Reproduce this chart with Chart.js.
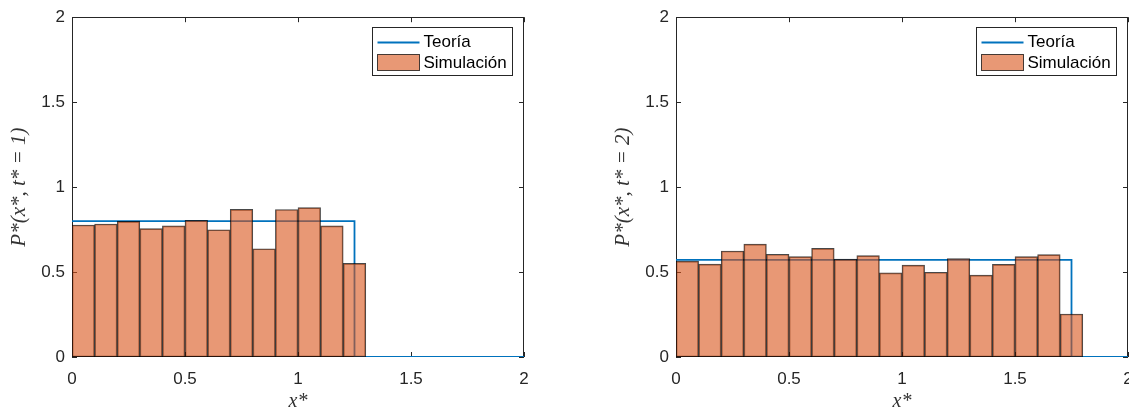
<!DOCTYPE html>
<html>
<head>
<meta charset="utf-8">
<script src="https://cdn.jsdelivr.net/npm/chart.js"></script>
<style>
  html, body { margin: 0; padding: 0; background: #fff; overflow: hidden; }
  #wrap { position: relative; width: 1129px; height: 414px; overflow: hidden; background: #fff; }
  .panel { position: absolute; top: 0; width: 560px; height: 414px; }
</style>
</head>
<body>
<div id="wrap">
  <div class="panel" style="left:0px"><canvas id="chart1" width="560" height="414"></canvas></div>
  <div class="panel" style="left:604px"><canvas id="chart2" width="560" height="414"></canvas></div>
</div>
<script>
// Data
const legendLabels = ['Teoría', 'Simulación'];
const axisTicks = [0, 0.5, 1, 1.5, 2];

// t* = 1
const binCenters1 = [0.05, 0.15, 0.25, 0.35, 0.45, 0.55, 0.65, 0.75, 0.85, 0.95, 1.05, 1.15, 1.25];
const simulation1 = [0.777, 0.783, 0.798, 0.756, 0.772, 0.804, 0.749, 0.869, 0.637, 0.868, 0.879, 0.772, 0.551];
const theoryX1 = [0, 1.25, 1.25, 2];
const theoryY1 = [0.8, 0.8, 0, 0];

// t* = 2
const binCenters2 = [0.05, 0.15, 0.25, 0.35, 0.45, 0.55, 0.65, 0.75, 0.85, 0.95, 1.05, 1.15, 1.25, 1.35, 1.45, 1.55, 1.65, 1.75];
const simulation2 = [0.564, 0.547, 0.624, 0.664, 0.605, 0.591, 0.639, 0.576, 0.597, 0.495, 0.541, 0.499, 0.580, 0.482, 0.545, 0.591, 0.603, 0.253];
const theoryX2 = [0, 1.75, 1.75, 2];
const theoryY2 = [0.5714, 0.5714, 0, 0];

const yTitles = ['P*(x*, t* = 1)', 'P*(x*, t* = 2)'];
const xTitle = 'x*';

const axisColor = '#262626';
const lineColor = '#0072BD';
const barFill = 'rgba(217, 83, 25, 0.6)';
const barEdge = 'rgba(0, 0, 0, 0.72)';

// box around the axes with inward ticks on all four sides, drawn under the data
const boxTicks = {
  id: 'boxTicks',
  beforeDatasetsDraw(chart) {
    const { ctx, chartArea: a, scales: { x, y } } = chart;
    const len = 5;
    ctx.save();
    ctx.strokeStyle = axisColor;
    ctx.lineWidth = 1;
    ctx.beginPath();
    x.ticks.forEach(t => {
      const px = Math.round(x.getPixelForValue(t.value)) + 0.5;
      ctx.moveTo(px, a.bottom); ctx.lineTo(px, a.bottom - len);
      ctx.moveTo(px, a.top); ctx.lineTo(px, a.top + len);
    });
    y.ticks.forEach(t => {
      const py = Math.round(y.getPixelForValue(t.value)) + 0.5;
      ctx.moveTo(a.left, py); ctx.lineTo(a.left + len, py);
      ctx.moveTo(a.right, py); ctx.lineTo(a.right - len, py);
    });
    ctx.stroke();
    ctx.strokeRect(Math.round(a.left) + 0.5, Math.round(a.top) + 0.5,
      Math.round(a.right - a.left) - 1, Math.round(a.bottom - a.top) - 1);
    ctx.restore();
  }
};

// legend drawn in a box in the upper right corner of the axes
const boxLegend = {
  id: 'boxLegend',
  afterDraw(chart) {
    const { ctx, chartArea: a } = chart;
    const w = 140, h = 48;
    const left = Math.round(a.right - 12 - w) + 0.5;
    const top = Math.round(a.top + 10) + 0.5;
    ctx.save();
    ctx.fillStyle = '#fff';
    ctx.fillRect(left, top, w, h);
    ctx.strokeStyle = axisColor;
    ctx.lineWidth = 1;
    ctx.strokeRect(left, top, w, h);

    const lineDs = chart.data.datasets.find(d => d.type === 'line');
    const barDs = chart.data.datasets.find(d => d.type === 'bar');

    // Teoría
    ctx.strokeStyle = lineDs.borderColor;
    ctx.lineWidth = 2;
    ctx.beginPath();
    ctx.moveTo(left + 5, top + 15);
    ctx.lineTo(left + 47, top + 15);
    ctx.stroke();

    // Simulación
    ctx.fillStyle = barDs.backgroundColor;
    ctx.fillRect(left + 5, top + 27, 42, 16);
    ctx.strokeStyle = barDs.borderColor;
    ctx.lineWidth = 1;
    ctx.strokeRect(left + 5, top + 27, 42, 16);

    ctx.fillStyle = '#000';
    ctx.font = '17px "Liberation Sans", Arial, sans-serif';
    ctx.textBaseline = 'middle';
    ctx.fillText(lineDs.label, left + 51, top + 15);
    ctx.fillText(barDs.label, left + 51, top + 36);
    ctx.restore();
  }
};

function makeChart(id, centers, values, tx, ty, yTitle) {
  const tickFont = { family: '"Liberation Sans", Arial, sans-serif', size: 17 };
  const serif = '"Liberation Serif", "Times New Roman", serif';
  return new Chart(document.getElementById(id), {
    type: 'bar',
    data: {
      datasets: [
        {
          type: 'line',
          label: legendLabels[0],
          data: tx.map((v, i) => ({ x: v, y: ty[i] })),
          borderColor: lineColor,
          borderWidth: 1.8,
          pointRadius: 0,
          fill: false,
          tension: 0,
          order: 2
        },
        {
          type: 'bar',
          label: legendLabels[1],
          data: centers.map((v, i) => ({ x: v, y: values[i] })),
          backgroundColor: barFill,
          borderColor: barEdge,
          borderWidth: 1,
          borderSkipped: false,
          barPercentage: 1,
          categoryPercentage: 1,
          order: 1
        }
      ]
    },
    options: {
      responsive: false,
      animation: false,
      layout: { autoPadding: false, padding: { top: 12, right: 36, bottom: 0, left: 0 } },
      plugins: { legend: { display: false }, tooltip: { enabled: false } },
      scales: {
        x: {
          type: 'linear',
          offset: false,
          min: 0,
          max: 2,
          afterBuildTicks(s) { s.ticks = axisTicks.map(v => ({ value: v })); },
          afterFit(s) { s.height = 57; },
          grid: { display: false, drawTicks: false },
          border: { display: false },
          ticks: { padding: 12, color: axisColor, font: tickFont, maxRotation: 0,
                   callback: v => String(v) },
          title: { display: true, text: xTitle, color: '#333',
                   font: { family: serif, size: 20, style: 'italic' },
                   padding: { top: 0, bottom: 0 } }
        },
        y: {
          type: 'linear',
          min: 0,
          max: 2,
          afterBuildTicks(s) { s.ticks = axisTicks.map(v => ({ value: v })); },
          afterFit(s) { s.width = 72; },
          grid: { display: false, drawTicks: false },
          border: { display: false },
          ticks: { padding: 7, color: axisColor, font: tickFont, callback: v => String(v) },
          title: { display: true, text: yTitle, color: '#333',
                   font: { family: serif, size: 21, style: 'italic' },
                   padding: { top: 7, bottom: 0 } }
        }
      }
    },
    plugins: [boxTicks, boxLegend]
  });
}

makeChart('chart1', binCenters1, simulation1, theoryX1, theoryY1, yTitles[0]);
makeChart('chart2', binCenters2, simulation2, theoryX2, theoryY2, yTitles[1]);
</script>
</body>
</html>
